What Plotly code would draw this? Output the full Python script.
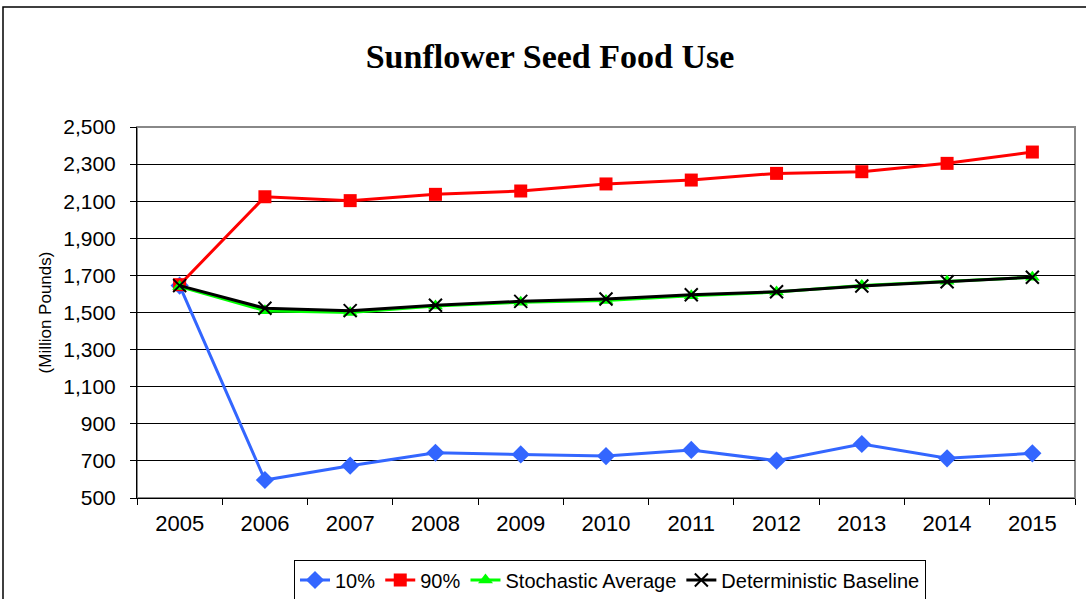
import plotly.graph_objects as go

years = ["2005", "2006", "2007", "2008", "2009", "2010", "2011", "2012", "2013", "2014", "2015"]
p10 = [1645, 597, 674, 744, 735, 726, 759, 701, 791, 714, 741]
p90 = [1650, 2124, 2103, 2137, 2155, 2193, 2214, 2250, 2259, 2304, 2365]
stoch_avg = [1640, 1510, 1500, 1535, 1555, 1565, 1590, 1610, 1645, 1668, 1690]
det_base = [1645, 1523, 1510, 1539, 1560, 1573, 1596, 1612, 1643, 1666, 1690]

fig = go.Figure()
fig.add_trace(go.Scatter(x=years, y=p10, name="10%", mode="lines+markers",
                         line=dict(color="#3366FF", width=3),
                         marker=dict(symbol="diamond", size=14, color="#3366FF")))
fig.add_trace(go.Scatter(x=years, y=p90, name="90%", mode="lines+markers",
                         line=dict(color="#FF0000", width=3),
                         marker=dict(symbol="square", size=13, color="#FF0000")))
fig.add_trace(go.Scatter(x=years, y=stoch_avg, name="Stochastic Average", mode="lines+markers",
                         line=dict(color="#00FF00", width=3),
                         marker=dict(symbol="triangle-up", size=13, color="#00FF00")))
fig.add_trace(go.Scatter(x=years, y=det_base, name="Deterministic Baseline", mode="lines+markers",
                         line=dict(color="#000000", width=3),
                         marker=dict(symbol="x-thin-open", size=13,
                                     line=dict(color="#000000", width=2))))

L, R, T, B = 137, 11, 127, 101
W, H = 1086, 599
pw = W - L - R
ph = H - T - B

fig.update_layout(
    width=W, height=H,
    margin=dict(l=L, r=R, t=T, b=B, autoexpand=False),
    paper_bgcolor="white", plot_bgcolor="white",
    title=dict(text="<b>Sunflower Seed Food Use</b>", x=550 / W, xanchor="center",
               y=1 - 56 / H, yanchor="middle",
               font=dict(family="Liberation Serif, Times New Roman, serif", size=34, color="black")),
    font=dict(family="Liberation Sans, Arial, sans-serif", color="black"),
    xaxis=dict(type="category", range=[-0.5, 10.5], showgrid=False, automargin=False,
               showline=True, linecolor="#000000", linewidth=1,
               ticks="outside", ticklen=6, tickcolor="#000000", tickson="boundaries",
               tickfont=dict(size=22), ticklabelstandoff=6),
    yaxis=dict(range=[500, 2500], dtick=200, tick0=500, tickformat=",d", automargin=False,
               showgrid=True, gridcolor="#000000", gridwidth=1, zeroline=False,
               showline=True, linecolor="#000000", linewidth=1,
               ticks="outside", ticklen=6, tickcolor="#000000",
               tickfont=dict(size=21), ticklabelstandoff=10,
               title=dict(text="(Million Pounds)", font=dict(size=17), standoff=7)),
    showlegend=True,
    legend=dict(orientation="h", x=(610 - L) / pw, xanchor="center",
                y=(498 - 580) / ph, yanchor="middle",
                bordercolor="#000000", borderwidth=1, bgcolor="white",
                font=dict(size=20), tracegroupgap=0),
    shapes=[
        dict(type="rect", xref="paper", yref="paper", x0=0, x1=1, y0=0, y1=1,
             line=dict(color="#888888", width=2), layer="below"),
        dict(type="rect", xref="paper", yref="paper",
             x0=(3 - L) / pw, x1=(1092 - L) / pw, y0=(498 - 610) / ph, y1=(498 - 7) / ph,
             line=dict(color="#000000", width=1.5), layer="below"),
    ],
)

fig.write_html("out.html", config={"displayModeBar": False},
               post_script="document.body.style.margin='0';document.body.style.overflow='hidden';")
